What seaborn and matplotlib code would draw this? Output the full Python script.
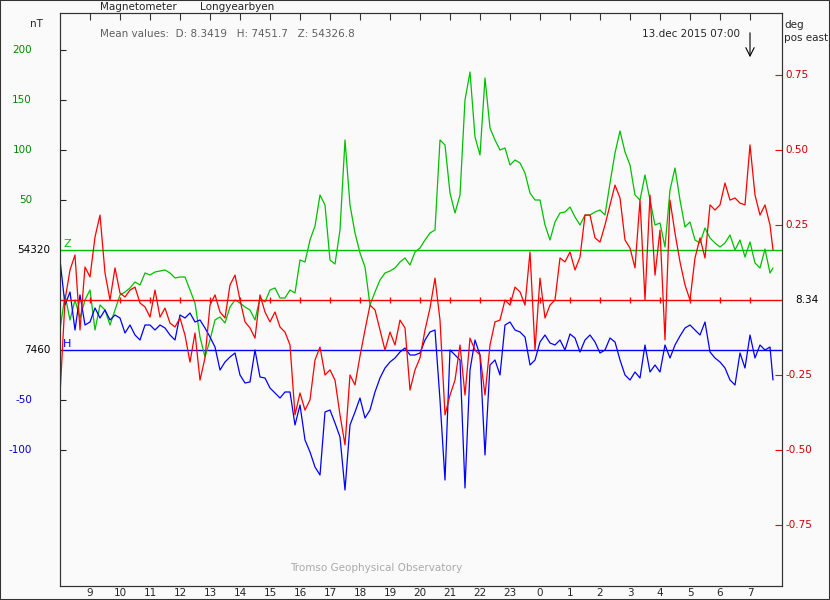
import numpy as np
import matplotlib
matplotlib.use("Agg")
import matplotlib.pyplot as plt
import matplotlib.transforms as mtransforms
from matplotlib.patches import Rectangle
import seaborn as sns

# sample times: minutes after 12.dec 2015 08:00 (10 min steps, last at 07:46)
minutes = list(range(0, 1421, 10)) + [1426]

# Z component, nT
z_nT = [54240, 54275, 54250, 54270, 54252, 54270, 54280, 54240, 54265, 54260,
        54245, 54260, 54275, 54278, 54282, 54288, 54285, 54297, 54295, 54298,
        54299, 54300, 54297, 54292, 54293, 54293, 54280, 54267, 54233, 54213,
        54230, 54250, 54253, 54247, 54263, 54270, 54267, 54263, 54260, 54250,
        54272, 54268, 54280, 54282, 54272, 54272, 54280, 54277, 54310, 54308,
        54330, 54344, 54375, 54365, 54310, 54306, 54340, 54430, 54365, 54337,
        54317, 54303, 54265, 54278, 54290, 54297, 54299, 54302, 54308, 54312,
        54305, 54318, 54322, 54330, 54337, 54340, 54430, 54425, 54377, 54357,
        54375, 54470, 54498, 54433, 54415, 54492, 54442, 54430, 54420, 54422,
        54405, 54410, 54407, 54397, 54377, 54370, 54370, 54345, 54330, 54348,
        54357, 54358, 54363, 54353, 54345, 54355, 54355, 54358, 54360, 54355,
        54387, 54417, 54439, 54418, 54405, 54375, 54370, 54395, 54370, 54345,
        54347, 54323, 54380, 54402, 54370, 54343, 54348, 54330, 54327, 54342,
        54332, 54327, 54323, 54327, 54335, 54320, 54330, 54313, 54328, 54307,
        54302, 54321, 54297, 54302]

# H component, nT
h_nT = [7550, 7505, 7518, 7480, 7515, 7485, 7488, 7502, 7492, 7500,
        7490, 7495, 7492, 7477, 7485, 7475, 7470, 7485, 7485, 7480,
        7485, 7482, 7475, 7470, 7495, 7492, 7497, 7488, 7490, 7482,
        7473, 7463, 7440, 7448, 7453, 7457, 7435, 7427, 7428, 7460,
        7433, 7432, 7422, 7417, 7412, 7418, 7418, 7385, 7405, 7370,
        7358, 7343, 7335, 7398, 7400, 7387, 7373, 7320, 7385, 7398,
        7412, 7392, 7400, 7418, 7432, 7442, 7448, 7452, 7458, 7462,
        7455, 7455, 7457, 7470, 7478, 7480, 7410, 7330, 7460, 7455,
        7450, 7322, 7440, 7470, 7455, 7355, 7445, 7450, 7435, 7485,
        7488, 7480, 7478, 7473, 7445, 7450, 7468, 7475, 7467, 7465,
        7470, 7460, 7476, 7472, 7458, 7470, 7475, 7468, 7457, 7460,
        7472, 7468, 7450, 7435, 7430, 7438, 7432, 7465, 7438, 7445,
        7438, 7465, 7452, 7465, 7474, 7482, 7485, 7480, 7475, 7488,
        7458, 7452, 7448, 7442, 7430, 7425, 7457, 7442, 7475, 7452,
        7465, 7460, 7463, 7430]

# D component, degrees (pos east)
d_deg = [8.023, 8.340, 8.440, 8.490, 8.240, 8.450, 8.417, 8.550, 8.623, 8.430,
         8.340, 8.447, 8.363, 8.350, 8.373, 8.383, 8.330, 8.317, 8.283, 8.373,
         8.283, 8.313, 8.263, 8.250, 8.280, 8.223, 8.133, 8.230, 8.073, 8.147,
         8.323, 8.357, 8.300, 8.280, 8.390, 8.423, 8.340, 8.267, 8.247, 8.213,
         8.357, 8.300, 8.267, 8.300, 8.250, 8.233, 8.190, 7.957, 8.030, 7.973,
         8.007, 8.140, 8.183, 8.090, 8.107, 8.073, 7.957, 7.857, 8.090, 8.057,
         8.153, 8.240, 8.323, 8.307, 8.240, 8.173, 8.233, 8.190, 8.273, 8.247,
         8.040, 8.107, 8.147, 8.240, 8.313, 8.413, 8.273, 7.957, 8.023, 8.073,
         8.190, 8.023, 8.213, 8.173, 8.157, 8.023, 8.190, 8.267, 8.273, 8.340,
         8.323, 8.383, 8.367, 8.323, 8.500, 8.173, 8.413, 8.280, 8.323, 8.340,
         8.480, 8.467, 8.500, 8.440, 8.483, 8.623, 8.623, 8.547, 8.533, 8.590,
         8.657, 8.723, 8.680, 8.540, 8.513, 8.447, 8.673, 8.340, 8.690, 8.423,
         8.573, 8.207, 8.673, 8.563, 8.467, 8.390, 8.340, 8.480, 8.547, 8.480,
         8.657, 8.640, 8.657, 8.730, 8.673, 8.680, 8.663, 8.657, 8.857, 8.690,
         8.623, 8.657, 8.590, 8.507]

Z_BASE = 54320
H_BASE = 7460
D_BASE = 8.34
hour_labels = [str((8 + h) % 24) for h in range(1, 24)]
mean_text = "Mean values:  D: 8.3419   H: 7451.7   Z: 54326.8"

GREEN = "#00c000"
RED = "#ff0000"
BLUE = "#0000ff"
BG = "#fafafa"
FRAME = "#333333"

sns.set_style("white")
plt.rcParams["font.family"] = ["DejaVu Sans"]
FS = 7.5

W, H = 830, 600
fig = plt.figure(figsize=(W / 100, H / 100), dpi=100, facecolor=BG)
ax = fig.add_axes([60 / W, 14 / H, 722 / W, 573 / H])
ax.set_facecolor(BG)

hours = np.array(minutes) / 60.0
# left axis in nT offset from the Z baseline, H baseline sits 100 nT lower
z_rel = np.array(z_nT) - Z_BASE
h_rel = np.array(h_nT) - H_BASE - 100

ax.axhline(0, color=GREEN, lw=1.0, zorder=1)
ax.axhline(-100, color=BLUE, lw=1.0, zorder=1)
sns.lineplot(x=hours, y=z_rel, ax=ax, color=GREEN, lw=0.9, estimator=None, zorder=2)
sns.lineplot(x=hours, y=h_rel, ax=ax, color=BLUE, lw=0.9, estimator=None, zorder=2)
ax.set_xlim(0, 722 / 30)
ax.set_ylim(-336, 237)

ax2 = ax.twinx()
ax2.axhline(D_BASE, color=RED, lw=1.0, zorder=1)
ax2.plot(range(1, 24), [D_BASE] * 23, ls="none", marker="|", ms=4, mew=1, color=RED)
sns.lineplot(x=hours, y=d_deg, ax=ax2, color=RED, lw=0.9, estimator=None, zorder=2)
ax2.set_ylim(D_BASE - 286 / 300, D_BASE + 287 / 300)

# x ticks: every hour, longer every third hour
ax.set_xticks(range(1, 24))
ax.set_xticklabels(hour_labels, fontsize=FS)
ax.set_xticks(range(3, 24, 3), minor=True)
ax.tick_params(axis="x", which="major", direction="in", length=5, width=0.8,
               top=True, color=FRAME, pad=1.5)
ax.tick_params(axis="x", which="minor", direction="in", length=8, width=0.8,
               top=True, color=FRAME)

left_ticks = [200, 150, 100, 50, -150, -200]
left_cols = [GREEN] * 4 + [BLUE] * 2
ax.set_yticks(left_ticks)
ax.set_yticklabels([""] * len(left_ticks))
ax.tick_params(axis="y", direction="in", length=4.5, width=0.8)
for t, c in zip(ax.yaxis.get_major_ticks(), left_cols):
    t.tick1line.set_color(c)

right_off = [0.75, 0.5, 0.25, -0.25, -0.5, -0.75]
ax2.set_yticks([D_BASE + o for o in right_off])
ax2.set_yticklabels([""] * len(right_off))
ax2.tick_params(axis="y", direction="in", length=5, width=0.8, color=RED)

for a in (ax, ax2):
    for s in a.spines.values():
        s.set_color(FRAME)
        s.set_linewidth(0.8)

# axis labels as free text
trl = mtransforms.blended_transform_factory(fig.transFigure, ax.transData)
for v, lab in zip([200, 150, 100, 50], ["200", "150", "100", "50"]):
    fig.text(32 / W, v, lab, transform=trl, ha="right", va="center", fontsize=FS, color="#008800")
for v, lab in zip([-150, -200], ["-50", "-100"]):
    fig.text(32 / W, v, lab, transform=trl, ha="right", va="center", fontsize=FS, color="#0000cc")
fig.text(50 / W, 0, str(Z_BASE), transform=trl, ha="right", va="center", fontsize=FS, color="black")
fig.text(50 / W, -100, str(H_BASE), transform=trl, ha="right", va="center", fontsize=FS, color="black")

trr = mtransforms.blended_transform_factory(fig.transFigure, ax2.transData)
for o in right_off:
    fig.text(785 / W, D_BASE + o, f"{o:.2f}", transform=trr, ha="left", va="center",
             fontsize=FS, color="#cc0000")
fig.text(795 / W, D_BASE, f"{D_BASE:.2f}", transform=trr, ha="left", va="center",
         fontsize=FS, color="black")

def px(x, y):
    return x / W, 1 - y / H

fig.text(*px(63, 249), "Z", ha="left", va="bottom", fontsize=FS + 0.5, color=GREEN)
fig.text(*px(63, 349), "H", ha="left", va="bottom", fontsize=FS + 0.5, color=BLUE)

fig.text(*px(100, 7), "Magnetometer", ha="left", va="center", fontsize=FS)
fig.text(*px(200, 7), "Longyearbyen", ha="left", va="center", fontsize=FS)
fig.text(*px(36, 24), "nT", ha="center", va="center", fontsize=FS)
fig.text(*px(100, 34), mean_text, ha="left", va="center", fontsize=FS, color="#606060")
fig.text(*px(740, 34), "13.dec 2015 07:00", ha="right", va="center", fontsize=FS)
fig.text(*px(784, 25), "deg", ha="left", va="center", fontsize=FS)
fig.text(*px(784, 38), "pos east", ha="left", va="center", fontsize=FS)
fig.text(*px(290, 568), "Tromso Geophysical Observatory", ha="left", va="center",
         fontsize=FS, color="#aaaaaa")

ax.annotate("", xy=px(750, 60), xytext=px(750, 30), xycoords="figure fraction",
            textcoords="figure fraction",
            arrowprops=dict(arrowstyle="->,head_length=0.6,head_width=0.3", color="black", lw=0.8))

fig.patches.append(Rectangle((0, 0), 1, 1, transform=fig.transFigure, fill=False,
                             edgecolor=FRAME, lw=1.5))

fig.savefig("out.png", dpi=100, facecolor=BG)
